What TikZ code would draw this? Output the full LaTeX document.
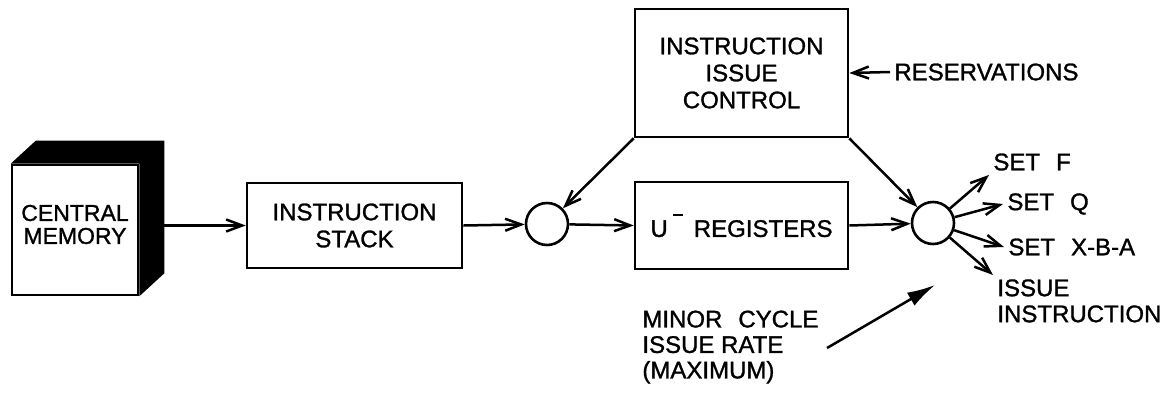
\documentclass[tikz,border=0pt]{standalone}
\usepackage{fontspec}
\setmainfont{Liberation Sans}[FakeBold=1.2]
\usetikzlibrary{arrows.meta}
\begin{document}
\begin{tikzpicture}[x=0.5pt,y=-0.5pt,
  lbl/.style={font=\fontsize{12}{13.5}\selectfont, align=center, inner sep=2pt},
  box/.style={draw, line width=1.3pt, lbl},
  junc/.style={draw, circle, line width=1.3pt, minimum size=21pt, inner sep=0pt},
  conn/.style={line width=1.25pt, -{Straight Barb[length=8pt,width=6pt,line width=1.25pt]}},
  bigarrow/.style={line width=1.25pt, -{Latex[length=14pt,width=7.5pt]}}
]
\useasboundingbox (0,0) rectangle (1176,392);

% nodes
\node[box, minimum width=63pt, minimum height=65pt] (mem) at (75,230) {};
\node[lbl, font=\fontsize{11.5}{11.5}\selectfont] (memtxt) at ([yshift=2.75pt]mem.center) {CENTRAL\\MEMORY};
\node[box, minimum width=107.5pt, minimum height=42.5pt] (stk) at (354.5,225.5) {INSTRUCTION\\STACK};
\node[junc] (c1) at (547,224) {};
\node[box, minimum width=106.5pt, minimum height=43.5pt] (ureg) at (741.5,225.5)
  {U\hspace{2.5pt}\raisebox{10.5pt}{\rule{5pt}{1pt}}\hspace{5.5pt}REGISTERS};
\node[box, minimum width=106.5pt, minimum height=64pt] (ctl) at (741.5,73) {INSTRUCTION\\ISSUE\\CONTROL};
\node[junc] (c2) at (933,223) {};
\node[lbl, anchor=west] (res) at (890,72) {RESERVATIONS};
\node[lbl, anchor=west] (sf) at (989,162) {SET\hspace{8pt}F};
\node[lbl, anchor=west] (sq) at (1003,204) {SET\hspace{8pt}Q};
\node[lbl, anchor=west] (sx) at (1004,247) {SET\hspace{8pt}X-B-A};
\node[lbl, anchor=north west, align=left, font=\fontsize{12}{13}\selectfont] (ii) at (993,275) {ISSUE\\INSTRUCTION};
\node[lbl, anchor=west, align=left, font=\fontsize{12}{12.75}\selectfont] (mc) at (638,347) {MINOR\hspace{8pt}CYCLE\\ISSUE RATE\\(MAXIMUM)};

% 3D faces of central memory
\coordinate (memR) at ([shift={(25,0)}]mem.east);
\fill (mem.north west) -- ++(25,-23) -- ([shift={(25,-23)}]mem.north east)
      -- ([shift={(25,-23)}]mem.south east) -- (mem.south east) -- (mem.north east) -- cycle;

% connectors
\draw[conn] (memR |- stk.west) -- (stk.west);
\draw[conn] (stk.east) -- (c1);
\draw[conn] (c1) -- (ureg.west);
\draw[conn] (ureg.east) -- (c2);
\draw[conn] (ctl.south west) -- (c1);
\draw[conn] (ctl.south east) -- (c2);
\draw[conn] (res.west) -- (ctl.east);
\draw[conn] (c2) -- (sf.south west);
\draw[conn] (c2) -- (sq.west);
\draw[conn] (c2) -- (sx.west);
\draw[conn] (c2) -- (ii.north west);

\coordinate (mtail) at (827,348);
\coordinate (mtip) at (935,285);
\draw[bigarrow] (mtail) -- (mtip);
\end{tikzpicture}
\end{document}
